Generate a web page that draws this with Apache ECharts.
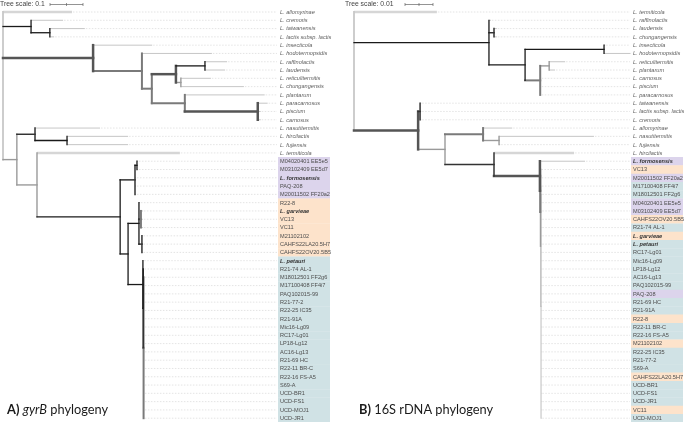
<!DOCTYPE html>
<html><head><meta charset="utf-8">
<script src="https://cdn.jsdelivr.net/npm/echarts@6/dist/echarts.min.js"></script>
<style>html,body{margin:0;padding:0;background:#fff}#c{width:684px;height:422px}</style>
</head><body><div id="c"></div>
<script>
// ---------- DATA ----------
// gyrB phylogeny (Newick, branch lengths in substitutions/site, internal labels = support)
const gyrBTree = `(
 'L. allomyrinae':0.209,
 ('L. cremoris':0.097,('L. taiwanensis':0.106,'L. lactis subsp. lactis':0.013)100:0.057)100:0.085,
 ('L. insecticola':0.179,
   ('L. hodotermopsidis':0.212,
     ((('L. raffinolactis':0.067,'L. laudensis':0.061)100:0.088,('L. reticulitermitis':0.091,'L. chungangensis':0.191)55:0.015)80:0.073,
      ('L. plantarum':0.242,('L. paracarnosus':0.030,'L. piscium':0.009,'L. carnosus':0.009)75:0.221)60:0.100
     )65:0.030
   )65:0.148
 )80:0.273,
 (('L. nasutitermitis':0.197,('L. hircilactis':0.185,'L. fujiensis':0.185)100:0.097)95:0.055,
  ('L. termiticola':0.433,
    ((('M04020401 EE5e5':0.003,'M03102409 EE5d7':0.003)100:0.006,'L. formosensis':0.003,'PAQ-208':0.003,'M20011502 FF20a2':0.003)95:0.045,
     (('R22-8':0.003,('L. garvieae':0.006,'VC13':0.006,'VC11':0.006)65:0.006,('M21102102':0.002,'CAHFS22LA20.5H7':0.002,'CAHFS22OV20.5B5':0.002)95:0.009)100:0.033,
      ('L. petauri':0.001,('R21-74 AL-1':0.001,('M18012501 FF2g6':0.001,'M17100408 FF4i7':0.001,'PAQ102015-99':0.001,'R21-77-2':0.001,'R22-25 IC35':0.001,'R21-91A':0.001,'Mic16-Lg09':0.001,'RC17-Lg01':0.001,'LP18-Lg12':0.001,'AC16-Lg13':0.001,'R21-69 HC':0.001,'R22-11 BR-C':0.001,'R22-16 FS-A5':0.001,'S69-A':0.001,'UCD-BR1':0.001,'UCD-FS1':0.001,'UCD-MOJ1':0.001,'UCD-JR1':0.001)60:0.001)95:0.001)100:0.045
     )100:0.024
    )100:0.252
  )55:0.061
 )55:0.042
);`;

// 16S rDNA phylogeny
const rDNATree = `(
 'L. termiticola':0.0296,
 ('L. raffinolactis':0.0007,('L. laudensis':0.0010,'L. chungangensis':0.0010)95:0.0018,
   (('L. insecticola':0.0004,'L. hodotermopsidis':0.0093)100:0.0282,
    (('L. reticulitermitis':0.0057,'L. plantarum':0.0021)55:0.0032,'L. carnosus':0.0002,'L. piscium':0.0002,'L. paracarnosus':0.0002)65:0.0054
   )100:0.0129
 )100:0.0482,
 (('L. taiwanensis':0.0004,'L. lactis subsp. lactis':0.0004,'L. cremoris':0.0004)95:0.0007,
   (('L. allomyrinae':0.0104,('L. nasutitermitis':0.0339,'L. fujiensis':0.0004)55:0.0057)60:0.0136,
    ('L. hircilactis':0.0286,
      ('L. formosensis':0.0161,('VC13':0.0001,('M20011502 FF20a2':0.0001,('M17100408 FF4i7':0.0001,('M18012501 FF2g6':0.0001,'M04020401 EE5e5':0.0001,'M03102409 EE5d7':0.0001,'CAHFS22OV20.5B5':0.0001,'R21-74 AL-1':0.0001,'L. garvieae':0.0001,'L. petauri':0.0001,'RC17-Lg01':0.0001,'Mic16-Lg09':0.0001,'LP18-Lg12':0.0001,'AC16-Lg13':0.0001,'PAQ102015-99':0.0001,'PAQ-208':0.0001,'R21-69 HC':0.0001,'R21-91A':0.0001,'R22-8':0.0001,'R22-11 BR-C':0.0001,'R22-16 FS-A5':0.0001,'M21102102':0.0001,'R22-25 IC35':0.0001,'R21-77-2':0.0001,'S69-A':0.0001,'CAHFS22LA20.5H7':0.0001,'UCD-BR1':0.0001,'UCD-FS1':0.0001,'UCD-JR1':0.0001,'VC11':0.0001,'UCD-MOJ1':0.0001)40:0.0001)45:0.0001)50:0.0001)60:0.0001)80:0.0164
    )90:0.0175
   )55:0.0096
 )80:0.0229
);`;

const formosensisGroup = ['M04020401 EE5e5','M03102409 EE5d7','L. formosensis','PAQ-208','M20011502 FF20a2'];
const garvieaeGroup = ['R22-8','L. garvieae','VC13','VC11','M21102102','CAHFS22LA20.5H7','CAHFS22OV20.5B5'];
const petauriGroup = ['L. petauri','R21-74 AL-1','M18012501 FF2g6','M17100408 FF4i7','PAQ102015-99','R21-77-2','R22-25 IC35','R21-91A','Mic16-Lg09','RC17-Lg01','LP18-Lg12','AC16-Lg13','R21-69 HC','R22-11 BR-C','R22-16 FS-A5','S69-A','UCD-BR1','UCD-FS1','UCD-MOJ1','UCD-JR1'];
const typeStrains = ['L. formosensis','L. garvieae','L. petauri'];
const treeScales = [0.1, 0.01];
const panelLetters = ['A)', 'B)'];
const panelGenes = [['gyrB', true], ['16S rDNA', false]];

// ---------- PARSING / LAYOUT ----------
function parseNewick(s) {
  let i = 0;
  const ws = () => { while (i < s.length && /\s/.test(s[i])) i++; };
  const readName = () => {
    ws();
    if (s[i] === "'") { i++; const j = s.indexOf("'", i); const n = s.slice(i, j); i = j + 1; return n; }
    let j = i; while (j < s.length && !/[,():;]/.test(s[j])) j++;
    const n = s.slice(i, j).trim(); i = j; return n;
  };
  const node = () => {
    ws();
    const nd = { children: [], name: '', len: 0 };
    if (s[i] === '(') {
      i++;
      nd.children.push(node()); ws();
      while (s[i] === ',') { i++; nd.children.push(node()); ws(); }
      i++;
    }
    nd.name = readName(); ws();
    if (s[i] === ':') {
      i++; let j = i; while (j < s.length && !/[,();]/.test(s[j])) j++;
      nd.len = parseFloat(s.slice(i, j)); i = j;
    }
    return nd;
  };
  return node();
}

// style table: index -> stroke/width
const STYLES = [
  { c: '#b8b8b8', w: 0.8 },  // 0 leaf
  { c: '#d6d6d6', w: 2.6 },  // 1 pale tip
  { c: '#c8c8c8', w: 1.8 },  // 2 root
  { c: '#bdbdbd', w: 1.0 },  // 3 support < 50
  { c: '#9a9a9a', w: 1.4 },  // 4 50-59
  { c: '#7a7a7a', w: 2.0 },  // 5 60-74
  { c: '#555555', w: 2.5 },  // 6 75-89
  { c: '#333333', w: 1.5 },  // 7 90-99
  { c: '#1a1a1a', w: 1.3 }   // 8 100
];
function supportStyle(sup) {
  if (sup >= 100) return 8;
  if (sup >= 90) return 7;
  if (sup >= 75) return 6;
  if (sup >= 60) return 5;
  if (sup >= 50) return 4;
  return 3;
}

function layoutTree(newick, paleTips) {
  const root = parseNewick(newick);
  const segs = [], leaves = [];
  let row = 0;
  function walk(nd, px) {
    const x = px + nd.len;
    if (!nd.children.length) {
      const y = row++;
      leaves.push([x, y, nd.name]);
      segs.push([px, y, x, y, paleTips.includes(nd.name) ? 1 : 0]);
      return y;
    }
    const ys = nd.children.map(c => walk(c, x));
    const y = (ys[0] + ys[ys.length - 1]) / 2;
    const st = nd === root ? 2 : supportStyle(+nd.name);
    segs.push([x, ys[0], x, ys[ys.length - 1], st]);
    if (nd !== root) segs.push([px, y, x, y, st]);
    return y;
  }
  walk(root, 0);
  segs.sort((a, b) => a[4] - b[4]);
  return { segs, leaves };
}

const panels = [
  { tree: layoutTree(gyrBTree, ['L. allomyrinae', 'L. termiticola']), left: 3, width: 275, pxPerUnit: 330, scaleOffset: 47, scaleTextX: 0 },
  { tree: layoutTree(rDNATree, ['L. termiticola', 'L. hircilactis']), left: 354, width: 277, pxPerUnit: 2800, scaleOffset: 51, scaleTextX: 345 }
];

function groupColor(name) {
  if (formosensisGroup.includes(name)) return '#dcd4ec';
  if (garvieaeGroup.includes(name)) return '#fde3cb';
  if (petauriGroup.includes(name)) return '#d0e2e5';
  return null;
}

const ROWS = 50;
const rowH = 8.29;
const top0 = 12 - rowH;

const grids = [], xAxes = [], yAxes = [], series = [];
panels.forEach((p, k) => {
  grids.push({ left: p.left, top: top0, width: p.width, height: rowH * ROWS });
  xAxes.push({ type: 'value', gridIndex: k, min: 0, max: p.width / p.pxPerUnit, show: false });
  yAxes.push({ type: 'value', gridIndex: k, min: -1, max: ROWS - 1, inverse: true, show: false });

  // leaf labels, leader lines and group backgrounds
  series.push({
    type: 'custom', xAxisIndex: k, yAxisIndex: k, z: 1, silent: true,
    data: p.tree.leaves.map(l => [l[0], l[1], l[2]]),
    renderItem: (params, api) => {
      const name = p.tree.leaves[params.dataIndex][2];
      const pt = api.coord([api.value(0), api.value(1)]);
      const right = params.coordSys.x + params.coordSys.width;
      const children = [];
      const bg = groupColor(name);
      if (bg) children.push({ type: 'rect', shape: { x: right, y: pt[1] - rowH / 2, width: 52, height: rowH + 0.3 }, style: { fill: bg } });
      children.push({ type: 'line', shape: { x1: pt[0] + 1, y1: pt[1], x2: right - 1, y2: pt[1] }, style: { stroke: '#d2d2d2', lineWidth: 0.6, lineDash: [1.5, 1.5] } });
      const isSp = name.startsWith('L. ');
      const bold = typeStrains.includes(name);
      children.push({ type: 'text', style: { text: name, x: right + 2, y: pt[1] + 0.3, verticalAlign: 'middle', align: 'left',
        fontSize: 5.6, fontFamily: 'Liberation Sans', fontStyle: isSp ? 'italic' : 'normal', fontWeight: bold ? 'bold' : 'normal',
        fill: bold ? '#333' : (isSp ? '#5e5e5e' : '#4e4e4e') } });
      return { type: 'group', children };
    }
  });

  // branches
  series.push({
    type: 'custom', xAxisIndex: k, yAxisIndex: k, z: 2, silent: true,
    data: p.tree.segs,
    renderItem: (params, api) => {
      const a = api.coord([api.value(0), api.value(1)]);
      const b = api.coord([api.value(2), api.value(3)]);
      const st = STYLES[api.value(4)];
      return { type: 'line', shape: { x1: a[0], y1: a[1], x2: b[0], y2: b[1] }, style: { stroke: st.c, lineWidth: st.w, lineCap: api.value(4) >= 2 ? 'square' : 'butt' } };
    }
  });

  // tree scale bar
  series.push({
    type: 'custom', xAxisIndex: k, yAxisIndex: k, z: 3, silent: true,
    data: [[treeScales[k]]],
    renderItem: (params, api) => {
      const o = api.coord([0, -1]);
      const e = api.coord([api.value(0), -1]);
      const len = e[0] - o[0];
      const x0 = o[0] + p.scaleOffset, y0 = 4.5;
      return { type: 'group', children: [
        { type: 'text', style: { text: 'Tree scale: ' + treeScales[k], x: p.scaleTextX, y: y0, verticalAlign: 'middle', fontSize: 6.8, fontFamily: 'Liberation Sans', fill: '#444' } },
        { type: 'line', shape: { x1: x0, y1: y0, x2: x0 + len, y2: y0 }, style: { stroke: '#666', lineWidth: 0.7 } },
        { type: 'line', shape: { x1: x0, y1: y0 - 1.5, x2: x0, y2: y0 + 1.5 }, style: { stroke: '#666', lineWidth: 0.7 } },
        { type: 'line', shape: { x1: x0 + len / 2, y1: y0 - 1.5, x2: x0 + len / 2, y2: y0 + 1.5 }, style: { stroke: '#666', lineWidth: 0.7 } },
        { type: 'line', shape: { x1: x0 + len, y1: y0 - 1.5, x2: x0 + len, y2: y0 + 1.5 }, style: { stroke: '#666', lineWidth: 0.7 } }
      ] };
    }
  });
});

const titleRich = {
  b: { fontWeight: 'bold', fontSize: 12.8, fontFamily: 'Lato', fill: '#1a1a1a' },
  i: { fontStyle: 'italic', fontSize: 12.8, fontFamily: 'Lato', fill: '#1a1a1a' },
  n: { fontSize: 12.8, fontFamily: 'Lato', fill: '#1a1a1a' }
};
const graphics = panels.map((p, k) => ({
  type: 'text', left: k === 0 ? 7 : 359, top: 403, silent: true,
  style: { text: '{b|' + panelLetters[k] + '} {' + (panelGenes[k][1] ? 'i' : 'n') + '|' + panelGenes[k][0] + '}{n| phylogeny}', rich: titleRich }
}));

const chart = echarts.init(document.getElementById('c'), null, { renderer: 'canvas' });
chart.setOption({
  animation: false,
  backgroundColor: '#fff',
  grid: grids, xAxis: xAxes, yAxis: yAxes,
  series, graphic: graphics
});
</script></body></html>
